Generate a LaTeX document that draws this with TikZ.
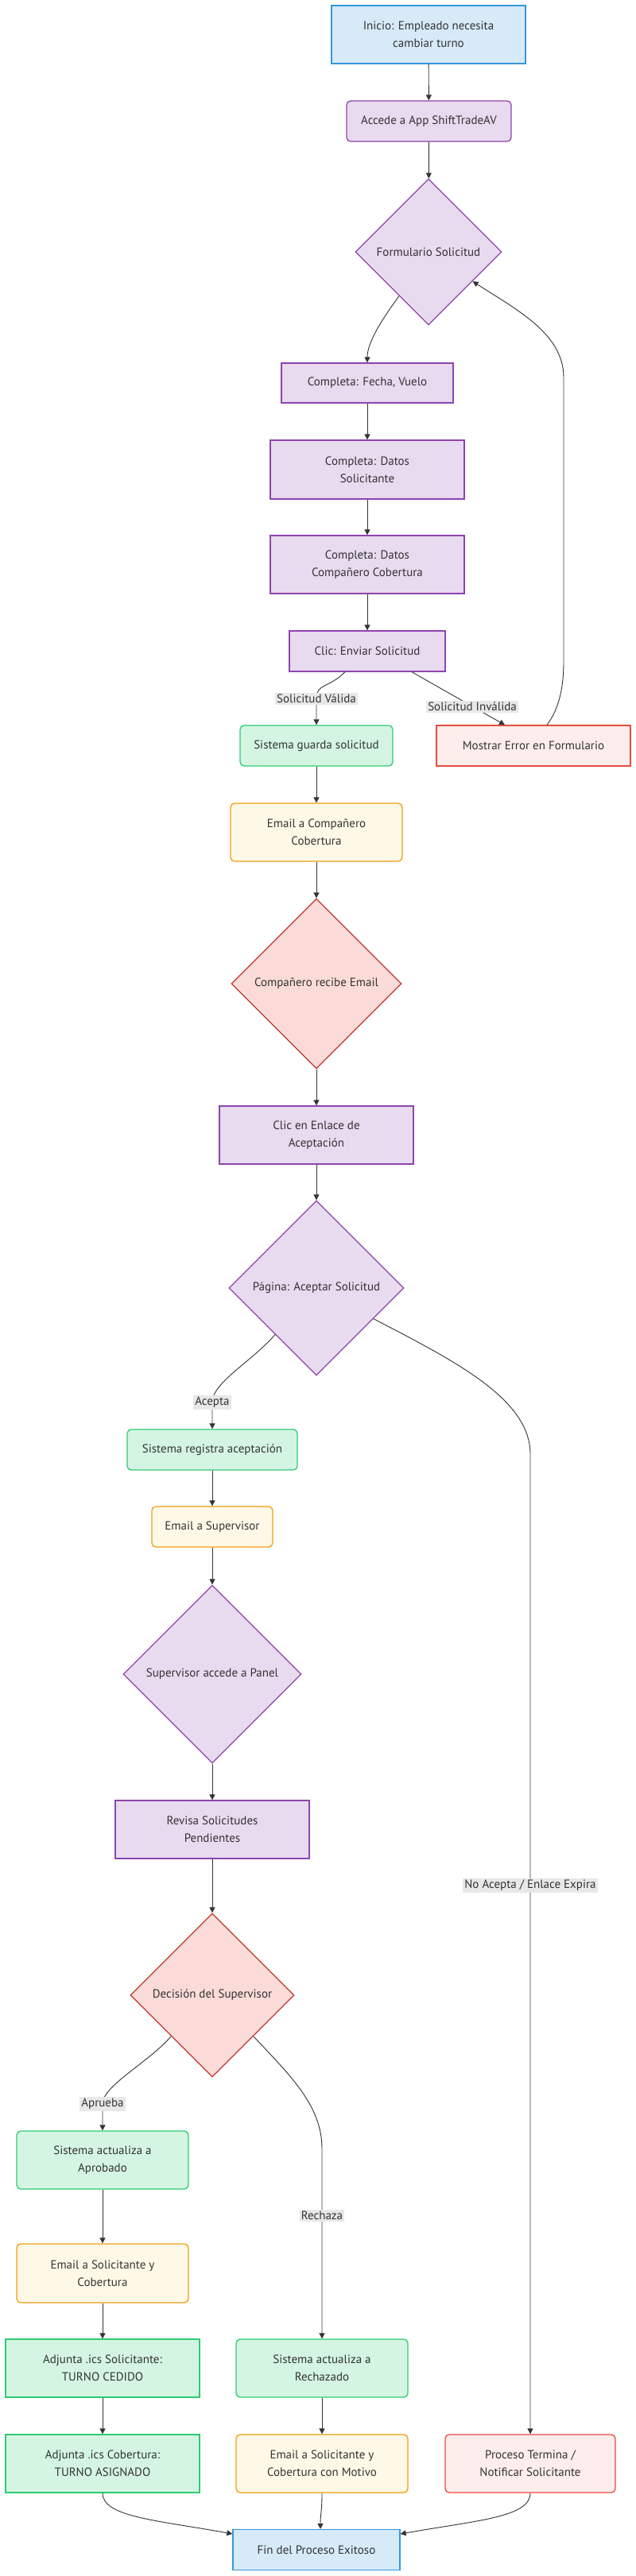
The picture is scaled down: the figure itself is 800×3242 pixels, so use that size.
\documentclass[tikz,border=0pt]{standalone}
\usepackage{fontspec}
\setmainfont{PT Sans}
\usetikzlibrary{shapes.geometric,arrows.meta,calc}

\definecolor{ink}{HTML}{333333}
\definecolor{startfill}{HTML}{D6EAF8}
\definecolor{startline}{HTML}{3498DB}
\definecolor{procfill}{HTML}{E8DAEF}
\definecolor{procline}{HTML}{8E44AD}
\definecolor{sysfill}{HTML}{D5F5E3}
\definecolor{sysline}{HTML}{2ECC71}
\definecolor{mailfill}{HTML}{FEF9E7}
\definecolor{mailline}{HTML}{F39C12}
\definecolor{decfill}{HTML}{FADBD8}
\definecolor{decline}{HTML}{C0392B}
\definecolor{errfill}{HTML}{FDEDEC}
\definecolor{errline}{HTML}{E74C3C}
\definecolor{lblfill}{HTML}{E8E8E8}

\begin{document}
\begin{tikzpicture}[x=1pt,y=-1pt,
  every node/.style={font=\fontsize{15}{22}\selectfont,text=ink,align=center},
  wh/.style 2 args={minimum width=#1pt,minimum height=#2pt},
  box/.style={draw,line width=1.3pt,inner sep=0pt},
  startbox/.style={box,fill=startfill,draw=startline},
  procbox/.style={box,fill=procfill,draw=procline},
  sysbox/.style={box,fill=sysfill,draw=sysline,rounded corners=5pt},
  sysflat/.style={box,fill=sysfill,draw=sysline},
  mailbox/.style={box,fill=mailfill,draw=mailline,rounded corners=5pt},
  errbox/.style={box,fill=errfill,draw=errline},
  decbox/.style={diamond,aspect=1,inner sep=0pt,line width=1.3pt,minimum size=#1pt},
  procdec/.style={decbox=#1,fill=procfill,draw=procline},
  reddec/.style={decbox=#1,fill=decfill,draw=decline},
  lbl/.style={fill=lblfill,inner sep=2pt},
  arr/.style={draw=ink,line width=0.9pt,-{Triangle[length=7pt,width=7pt]}}]

  \useasboundingbox (0,0) rectangle (800,3242);

  \node[startbox,wh={244}{73}] (inicio) at (539,43.5) {Inicio: Empleado necesita\\cambiar turno};
  \node[procbox,rounded corners=5pt,wh={207}{51}] (accede) at (539.5,152.5) {Accede a App ShiftTradeAV};
  \node[procdec=184] (form) at (539,317) {Formulario Solicitud};
  \node[procbox,wh={216}{50}] (fecha) at (462,482) {Completa: Fecha, Vuelo};
  \node[procbox,wh={244}{74}] (datosS) at (462,591) {Completa: Datos\\Solicitante};
  \node[procbox,wh={244}{73}] (datosC) at (462,710.5) {Completa: Datos\\Compañero Cobertura};
  \node[procbox,wh={196}{51}] (clic) at (462,819.5) {Clic: Enviar Solicitud};
  \node[sysbox,wh={192}{51}] (guarda) at (398,938.5) {Sistema guarda solicitud};
  \node[errbox,wh={244}{51}] (error) at (671,938.5) {Mostrar Error en Formulario};
  \node[mailbox,wh={216}{73}] (emailC) at (398,1047.5) {Email a Compañero\\Cobertura};
  \node[reddec=214] (recibe) at (398,1238) {Compañero recibe Email};
  \node[procbox,wh={244}{73}] (enlace) at (398,1428.5) {Clic en Enlace de\\Aceptación};
  \node[procdec=220] (pagina) at (398,1621) {Página: Aceptar Solicitud};
  \node[sysbox,wh={214}{51}] (registra) at (267,1824.5) {Sistema registra aceptación};
  \node[mailbox,wh={152}{51}] (emailSup) at (267,1921.5) {Email a Supervisor};
  \node[procdec=224] (panel) at (267,2107) {Supervisor accede a Panel};
  \node[procbox,wh={244}{73}] (revisa) at (267,2302.5) {Revisa Solicitudes\\Pendientes};
  \node[reddec=206] (decision) at (267,2511) {Decisión del Supervisor};
  \node[sysbox,wh={216}{73}] (aprobado) at (129,2718.5) {Sistema actualiza a\\Aprobado};
  \node[mailbox,wh={216}{74}] (emailSC) at (129,2861) {Email a Solicitante y\\Cobertura};
  \node[sysflat,wh={244}{73}] (adjS) at (129,2980.5) {Adjunta .ics Solicitante:\\TURNO CEDIDO};
  \node[sysflat,wh={244}{73}] (adjC) at (129,3100.5) {Adjunta .ics Cobertura:\\TURNO ASIGNADO};
  \node[sysbox,wh={216}{73}] (rechazado) at (405,2980.5) {Sistema actualiza a\\Rechazado};
  \node[mailbox,wh={216}{73}] (emailM) at (405,3100.5) {Email a Solicitante y\\Cobertura con Motivo};
  \node[errbox,rounded corners=5pt,wh={214}{73}] (proceso) at (667,3100.5) {Proceso Termina /\\Notificar Solicitante};
  \node[startbox,wh={210}{51}] (fin) at (398,3209) {Fin del Proceso Exitoso};

  \draw[arr] (inicio) -- (accede);
  \draw[arr] (accede) -- (form);
  \draw[arr] ($(form.west)!0.6!(form.south)$) .. controls (482,400) and (462,430) .. (fecha.north);
  \draw[arr] (fecha) -- (datosS);
  \draw[arr] (datosS) -- (datosC);
  \draw[arr] (datosC) -- (clic);
  \draw[arr] ([xshift=-28pt]clic.south) .. controls (414,866) and (398,860) .. (398,879)
    node[lbl] {Solicitud Válida} -- (guarda.north);
  \draw[arr] ([xshift=56pt]clic.south) -- node[lbl,pos=0.65] {Solicitud Inválida} ([xshift=-36pt]error.north);
  \draw[arr] ([xshift=17pt]error.north) .. controls (705,890) and (709,860) .. (709,833)
    -- (709,475) .. controls (709,420) and (650,390) .. ($(form.east)!0.4!(form.south)$);
  \draw[arr] (guarda) -- (emailC);
  \draw[arr] (emailC) -- (recibe);
  \draw[arr] (recibe) -- (enlace);
  \draw[arr] (enlace) -- (pagina);
  \draw[arr] ($(pagina.west)!0.53!(pagina.south)$) .. controls (315,1715) and (267,1740) .. (267,1765)
    node[lbl] {Acepta} -- (registra.north);
  \draw[arr] ($(pagina.east)!0.35!(pagina.south)$) .. controls (570,1712) and (667,1760) .. (667,1830)
    -- node[lbl,pos=0.44] {No Acepta / Enlace Expira} (proceso.north);
  \draw[arr] (registra) -- (emailSup);
  \draw[arr] (emailSup) -- (panel);
  \draw[arr] (panel) -- (revisa);
  \draw[arr] (revisa) -- (decision);
  \draw[arr] ($(decision.west)!0.5!(decision.south)$) .. controls (185,2597) and (129,2625) .. (129,2648)
    node[lbl] {Aprueba} -- (aprobado.north);
  \draw[arr] ($(decision.east)!0.5!(decision.south)$) .. controls (365,2612) and (405,2650) .. (405,2704)
    -- node[lbl,pos=0.354] {Rechaza} (rechazado.north);
  \draw[arr] (aprobado) -- (emailSC);
  \draw[arr] (emailSC) -- (adjS);
  \draw[arr] (adjS) -- (adjC);
  \draw[arr] (rechazado) -- (emailM);
  \draw[arr] (adjC.south) .. controls (129,3168) and (200,3172) .. ([yshift=20pt]fin.west);
  \draw[arr] (emailM.south) .. controls (405,3160) and (403,3165) .. ([xshift=5pt]fin.north);
  \draw[arr] (proceso.south) .. controls (667,3168) and (600,3172) .. ([yshift=20pt]fin.east);
\end{tikzpicture}
\end{document}
